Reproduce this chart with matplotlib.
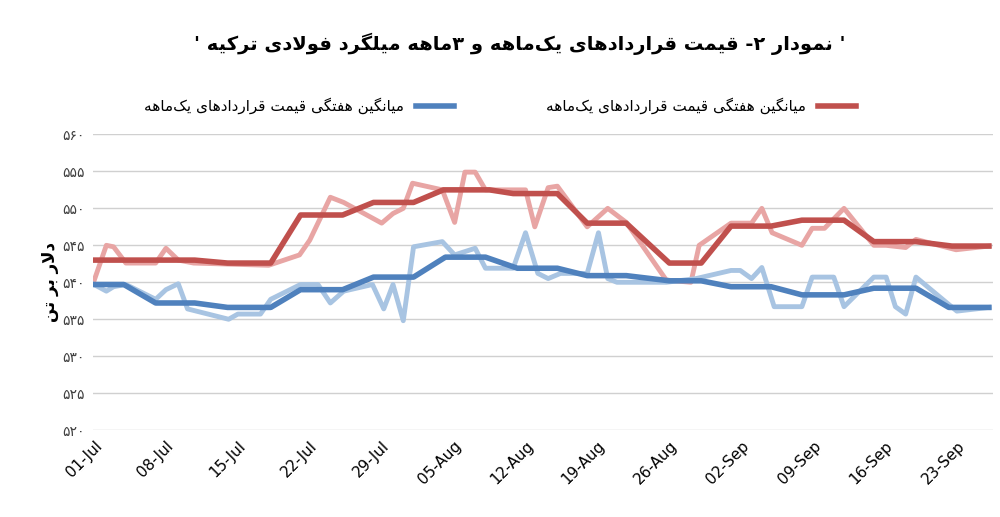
import matplotlib
matplotlib.use("Agg")
import matplotlib.pyplot as plt
import matplotlib.dates as mdates
import pandas as pd
from matplotlib.lines import Line2D

# ---- minimal Persian shaper ----
FORMS = {  # iso, fin, ini, med
 'ا':(0xFE8D,0xFE8E,None,None),'د':(0xFEA9,0xFEAA,None,None),'ذ':(0xFEAB,0xFEAC,None,None),
 'ر':(0xFEAD,0xFEAE,None,None),'ز':(0xFEAF,0xFEB0,None,None),'و':(0xFEED,0xFEEE,None,None),
 'ژ':(0xFB8A,0xFB8B,None,None),
}
for ch, b in [('ب',0xFE8F),('ت',0xFE95),('ث',0xFE99),('ج',0xFE9D),('ح',0xFEA1),('خ',0xFEA5),
              ('س',0xFEB1),('ش',0xFEB5),('ص',0xFEB9),('ض',0xFEBD),('ط',0xFEC1),('ظ',0xFEC5),
              ('ع',0xFEC9),('غ',0xFECD),('ف',0xFED1),('ق',0xFED5),('ل',0xFEDD),('م',0xFEE1),
              ('ن',0xFEE5),('ه',0xFEE9),('پ',0xFB56),('چ',0xFB7A),('ک',0xFB8E),('گ',0xFB92),('ی',0xFBFC)]:
    FORMS[ch] = (b, b+1, b+2, b+3)

def fa(s):
    s = s.replace('لا', '\uE000')
    out = []
    n = len(s)
    def dual(c): return c in FORMS and FORMS[c][2] is not None
    def joinable(c): return c in FORMS or c == '\uE000'
    for i, c in enumerate(s):
        prev = s[i-1] if i > 0 else ''
        nxt = s[i+1] if i+1 < n else ''
        jp = dual(prev)
        if c == '\uE000':
            out.append(chr(0xFEFC) if jp else chr(0xFEFB)); continue
        if c not in FORMS:
            if c != '\u200c': out.append(c)
            continue
        f = FORMS[c]
        jn = f[2] is not None and joinable(nxt)
        if jp and jn: out.append(chr(f[3]))
        elif jp: out.append(chr(f[1]))
        elif jn: out.append(chr(f[2]))
        else: out.append(chr(f[0]))
    return ''.join(out)[::-1]

# ---- data (day offsets from 01-Jul) ----
start = pd.Timestamp("2024-07-01")
red_light_d = [0,1.2,1.9,3.1,6,7,8.2,9.7,17,20,21,23,24.3,28,29.1,30.1,31,33.9,35.1,36.1,37.1,38.1,42,42.9,44.2,45.1,48,50,51.8,55.7,58.1,58.9,62,64,65,66,68.9,69.9,71.1,73,75.9,77.1,79,80,83.9,87.1]
red_light_v = [540.2,545,544.8,542.6,542.6,544.6,543,542.6,542.3,543.7,545.7,551.5,550.8,548,549.3,550,553.4,552.5,548.1,554.9,554.9,552.5,552.5,547.5,552.8,553,547.5,550,548.1,540.3,540,545,548,548,550,546.7,545,547.3,547.3,550,545,545,544.7,545.8,544.4,544.9]
red_week_d = [0,9.8,13,17.2,20.1,24.2,27.2,31.1,34,38.5,40.8,43.4,45.1,48,51.8,56,59.1,62,65.9,68.9,73,75.9,80,83.5,87.1]
red_week_v = [543,543,542.6,542.6,549.1,549.1,550.8,550.8,552.5,552.5,552,552,552,548,548,542.6,542.6,547.6,547.6,548.4,548.4,545.5,545.5,544.9,544.9]
blue_week_d = [0,2.9,6,9.8,13,17.2,20.1,24.2,27.2,31.1,34.2,38.1,41.2,45.1,48,51.8,56,59.1,62,65.9,68.9,73,75.9,80,83.2,87.1]
blue_week_v = [539.7,539.7,537.2,537.2,536.6,536.6,539,539,540.7,540.7,543.4,543.4,541.9,541.9,540.9,540.9,540.2,540.2,539.4,539.4,538.3,538.3,539.2,539.2,536.6,536.6]
blue_light_d = [0,1.2,1.9,3.1,6,7,8.2,9.1,13.1,14,16.2,17.2,20.1,21.8,23,24.3,27.1,28.2,29.1,30.1,31.1,33.9,35.1,37.1,38.1,40.8,42,43.2,44.2,45.4,48,49.1,50,50.9,55.7,58.6,62,62.9,64,65,66.2,68.9,69.9,72,73,75.9,77.1,78,79,80,81.9,83.98,87.1]
blue_light_v = [539.7,538.8,539.4,539.7,537.7,539,539.8,536.4,535,535.7,535.7,537.7,539.7,539.7,537.2,538.8,539.7,536.4,539.7,534.8,544.8,545.5,543.7,544.6,541.9,541.9,546.7,541.2,540.5,541.2,541.2,546.7,540.5,540,540,540.5,541.6,541.6,540.5,542,536.7,536.7,540.7,540.7,536.7,540.7,540.7,536.7,535.7,540.7,538.5,536.1,536.6]
yticks = [520,525,530,535,540,545,550,555,560]
title = "' نمودار ۲- قیمت قراردادهای یک\u200cماهه و ۳ماهه میلگرد فولادی ترکیه '"
legend_label = "میانگین هفتگی قیمت قراردادهای یک\u200cماهه"
ylabel = "دلار بر تن"

def to_dates(d): return [start + pd.Timedelta(hours=24*x) for x in d]
def fa_digits(v): return str(v).translate(str.maketrans("0123456789", "۰۱۲۳۴۵۶۷۸۹"))

plt.rcParams['font.family'] = 'DejaVu Sans'
fig = plt.figure(figsize=(10, 5.17), dpi=100)
ax = fig.add_axes([0.093, 0.168, 0.9, 0.572])

ax.plot(to_dates(red_light_d), red_light_v, color='#e8a5a4', lw=3.5, solid_joinstyle='round')
ax.plot(to_dates(blue_light_d), blue_light_v, color='#a8c4e2', lw=3.5, solid_joinstyle='round')
ax.plot(to_dates(red_week_d), red_week_v, color='#c0504d', lw=4, solid_joinstyle='round')
ax.plot(to_dates(blue_week_d), blue_week_v, color='#4f81bd', lw=4, solid_joinstyle='round')

ax.set_ylim(520, 560)
ax.set_yticks(yticks)
ax.set_yticklabels([fa_digits(v) for v in yticks], fontsize=10, color='#404040')
ax.set_xlim(start - pd.Timedelta(days=0.1), start + pd.Timedelta(days=87.5))
ticks = pd.date_range(start, periods=13, freq='7D')
ax.set_xticks(ticks)
ax.set_xticklabels([t.strftime('%d-%b') for t in ticks], rotation=45, ha='right', fontsize=11, rotation_mode='anchor')
ax.tick_params(length=0, pad=6)
ax.grid(axis='y', color='#d0d0d0', lw=1)
ax.set_axisbelow(True)
for s in ax.spines.values(): s.set_visible(False)
ax.set_ylabel(fa(ylabel), fontsize=12, fontweight='bold', labelpad=2)

fig.text(0.52, 0.915, fa(title), ha='center', va='center', fontsize=14, fontweight='bold')
h1 = Line2D([], [], color='#4f81bd', lw=4)
h2 = Line2D([], [], color='#c0504d', lw=4)
fig.legend([h1, h2], [fa(legend_label), fa(legend_label)], loc='center', bbox_to_anchor=(0.5, 0.795),
           ncol=2, frameon=False, markerfirst=False, fontsize=11, columnspacing=6, handlelength=2.5)
fig.savefig('out.png', dpi=100)
